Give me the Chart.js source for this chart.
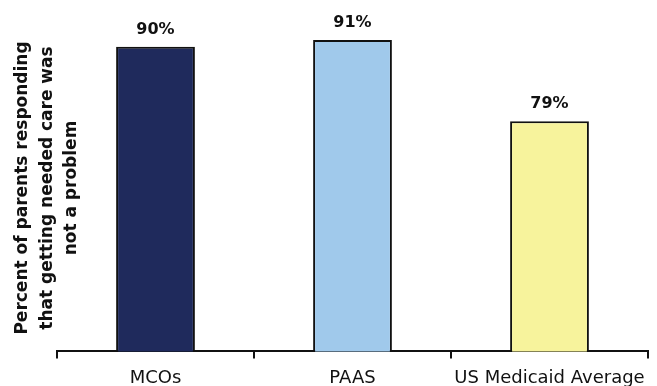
<!DOCTYPE html>
<html>
<head>
<meta charset="utf-8">
<script src="https://cdn.jsdelivr.net/npm/chart.js@4/dist/chart.umd.min.js"></script>
<style>
  html, body { margin: 0; padding: 0; background: #ffffff; }
  #wrap { width: 657px; height: 386px; position: relative; }
</style>
</head>
<body>
<div id="wrap"><canvas id="c" width="657" height="386"></canvas></div>
<script>
// Survey results: share of parents reporting getting needed care was not a problem
const categories = ["MCOs", "PAAS", "US Medicaid Average"];
const values = [90, 91, 79];
const barColors = ["#1F2A5C", "#A0C9EB", "#F7F39C"];
const yTitleLines = ["Percent of parents responding", "that getting needed care was", "not a problem"];

// Percent labels above each bar
const valueLabels = {
  id: "valueLabels",
  afterDatasetsDraw(chart) {
    const ctx = chart.ctx;
    const meta = chart.getDatasetMeta(0);
    ctx.save();
    ctx.font = "bold 16px 'DejaVu Sans'";
    ctx.fillStyle = "#111111";
    ctx.textAlign = "center";
    ctx.textBaseline = "bottom";
    meta.data.forEach((bar, i) => {
      ctx.fillText(values[i] + "%", bar.x, bar.y - 9);
    });
    ctx.restore();
  }
};

// Rotated three-line axis title on the left
const yTitle = {
  id: "yTitle",
  afterDraw(chart) {
    const ctx = chart.ctx;
    ctx.save();
    ctx.font = "bold 17px 'DejaVu Sans'";
    ctx.fillStyle = "#111111";
    ctx.textAlign = "center";
    ctx.textBaseline = "middle";
    const cy = 188;
    yTitleLines.forEach((line, i) => {
      ctx.save();
      ctx.translate(23 + i * 24.5, cy);
      ctx.rotate(-Math.PI / 2);
      ctx.fillText(line, 0, 0);
      ctx.restore();
    });
    ctx.restore();
  }
};

new Chart(document.getElementById("c"), {
  type: "bar",
  data: {
    labels: categories,
    datasets: [{
      data: values,
      backgroundColor: barColors,
      borderColor: "#111111",
      borderWidth: 2,
      borderSkipped: "bottom",
      categoryPercentage: 0.4,
      barPercentage: 1.0
    }]
  },
  options: {
    responsive: false,
    animation: false,
    layout: { padding: { left: 57, right: 9, top: 13, bottom: -12 } },
    plugins: {
      legend: { display: false },
      tooltip: { enabled: false }
    },
    scales: {
      x: {
        offset: true,
        grid: {
          offset: true,
          drawOnChartArea: false,
          drawTicks: true,
          tickLength: 7,
          color: "#111111",
          lineWidth: 2
        },
        border: { display: true, color: "#111111", width: 2 },
        ticks: {
          color: "#111111",
          padding: 9,
          font: { family: "'DejaVu Sans'", size: 18 }
        }
      },
      y: {
        display: false,
        min: 45,
        max: 95
      }
    }
  },
  plugins: [valueLabels, yTitle]
});
</script>
</body>
</html>
